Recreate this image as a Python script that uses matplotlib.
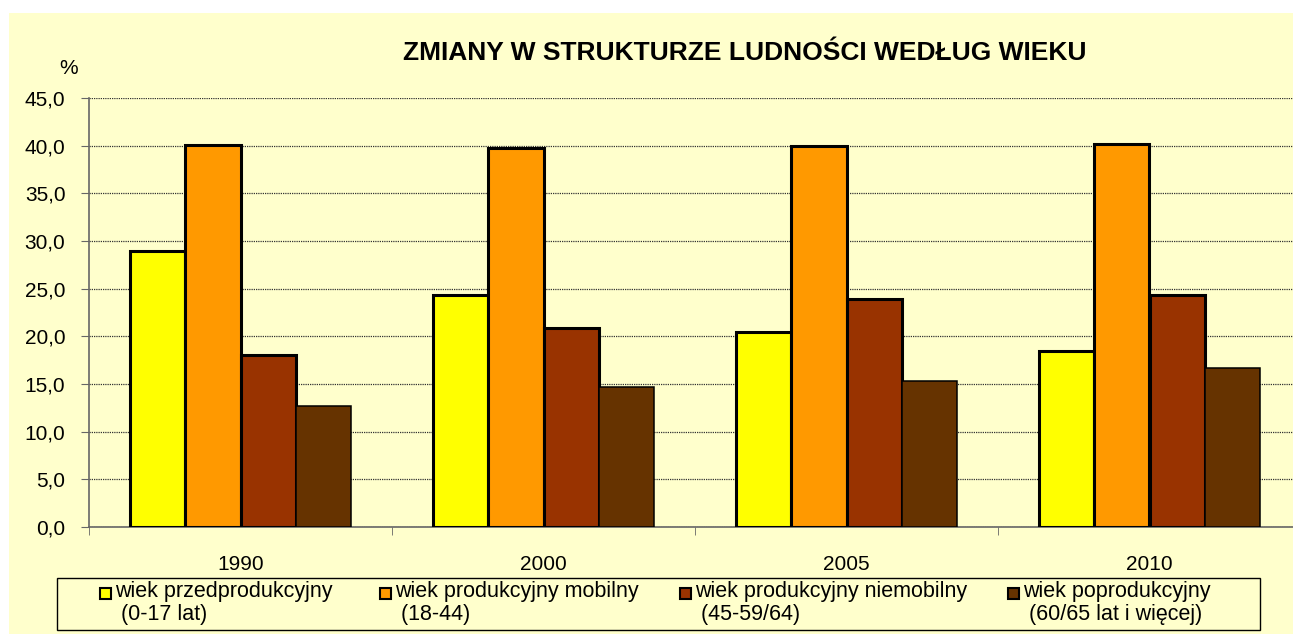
import matplotlib
matplotlib.use("Agg")
import matplotlib.pyplot as plt
from matplotlib.patches import Rectangle
import numpy as np

plt.rcParams['font.family'] = ['Liberation Sans', 'DejaVu Sans']

#data
years = ["1990", "2000", "2005", "2010"]
przed = [29.0, 24.3, 20.5, 18.5]
mobilny = [40.1, 39.8, 40.0, 40.2]
niemobilny = [18.0, 20.9, 23.9, 24.3]
poprod = [12.7, 14.7, 15.3, 16.7]

labels = ["wiek przedprodukcyjny\n (0-17 lat)",
          "wiek produkcyjny mobilny\n (18-44)",
          "wiek produkcyjny niemobilny\n (45-59/64)",
          "wiek poprodukcyjny\n (60/65 lat i więcej)"]
colors = ["#FFFF00", "#FF9900", "#993300", "#663300"]
edge_w = [2.2, 2.2, 2.2, 1.1]

W, H = 1293, 634
fig = plt.figure(figsize=(W / 100, H / 100), dpi=100, facecolor="white")

#light yellow chart area
fig.patches.append(Rectangle((9 / W, 0), 1, 1 - 13 / H, transform=fig.transFigure,
                             facecolor="#FFFFCC", edgecolor="none", zorder=-10))

ax = fig.add_axes([89 / W, 107 / H, 1212 / W, 429 / H])
ax.set_facecolor("none")
ax.set_zorder(2)

series = [przed, mobilny, niemobilny, poprod]
x = np.arange(len(years))
bw = 0.183
for i, vals in enumerate(series):
    ax.bar(x + (i - 1.5) * bw, vals, bw, color=colors[i], edgecolor="black",
           linewidth=edge_w[i], zorder=3)

ax.set_xlim(-0.5, len(years) - 0.5)
ax.set_ylim(0, 45)
ax.set_yticks(np.arange(0, 45.1, 5))
ax.set_yticklabels([f"{v:.1f}".replace(".", ",") for v in np.arange(0, 45.1, 5)], fontsize=15)
ax.set_xticks(x)
ax.set_xticklabels(years, fontsize=15)
ax.set_xticks(np.arange(-0.5, len(years), 1), minor=True)
ax.tick_params(axis="x", which="major", length=0, pad=20)
ax.tick_params(axis="x", which="minor", length=6, color="#666666", direction="out")
ax.tick_params(axis="y", length=6, color="#666666", pad=11)

ax.yaxis.grid(True, linestyle=(0, (1, 0.8)), color="#333333", linewidth=0.9, zorder=0)
ax.set_axisbelow(True)
for s in ["top", "right"]:
    ax.spines[s].set_visible(False)
for s in ["left", "bottom"]:
    ax.spines[s].set_color("#666666")
    ax.spines[s].set_linewidth(1.2)

fig.text(745 / W, 1 - 53 / H, "ZMIANY W STRUKTURZE LUDNOŚCI WEDŁUG WIEKU",
         ha="center", va="center", fontsize=19, fontweight="bold")
fig.text(69 / W, 1 - 69 / H, "%", ha="center", va="center", fontsize=15)

#legend box drawn by hand
fig.patches.append(Rectangle((57 / W, 1 - 630 / H), (1260 - 57) / W, 52 / H,
                             transform=fig.transFigure, facecolor="none",
                             edgecolor="black", linewidth=1.0, zorder=5))
marker_x = [100, 380, 680, 1008]
for i, lab in enumerate(labels):
    fig.patches.append(Rectangle((marker_x[i] / W, 1 - 599 / H), 11 / W, 11 / H,
                                 transform=fig.transFigure, facecolor=colors[i],
                                 edgecolor="black", linewidth=1.5, zorder=6))
    fig.text((marker_x[i] + 15) / W, 1 - 581 / H, lab, ha="left", va="top",
             fontsize=15.5, linespacing=1.1)

fig.savefig("out.png", dpi=100, facecolor="white")
